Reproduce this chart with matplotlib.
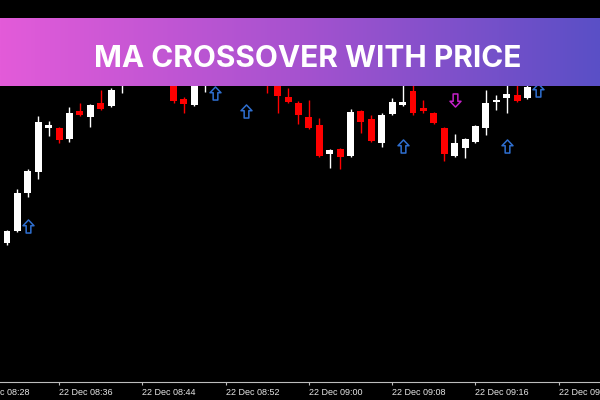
import numpy as np
import matplotlib
matplotlib.use("Agg")
import matplotlib.pyplot as plt
from matplotlib.path import Path
from matplotlib.colors import LinearSegmentedColormap

# one candle per minute, first candle = 22 Dec 08:31
opens = [139, 151, 189, 210, 254, 254, 243, 271, 265, 279, 276, 298, 310, 322, 316, 332, 312,
         283, 277, 302, 304, 316, 327, 318, 334, 324, 306, 285, 279, 265, 257, 228, 233, 226,
         271, 263, 239, 268, 277, 291, 274, 269, 254, 226, 234, 240, 254, 280, 284, 287, 284,
         305, 330, 347, 340, 352, 357]
highs = [152, 193, 213, 266, 261, 255, 275, 279, 278, 292, 294, 316, 327, 330, 336, 337, 318,
         285, 308, 320, 322, 332, 330, 338, 342, 332, 312, 294, 281, 282, 264, 233, 234, 273,
         272, 267, 269, 284, 304, 298, 282, 270, 255, 248, 244, 257, 292, 287, 298, 298, 300,
         334, 364, 352, 356, 360, 362]
lows = [137, 150, 185, 203, 246, 239, 240, 266, 255, 272, 275, 289, 306, 312, 313, 316, 279,
        269, 276, 290, 298, 310, 312, 304, 312, 289, 269, 279, 258, 253, 225, 214, 213, 225,
        249, 240, 235, 267, 276, 267, 269, 258, 221, 225, 224, 239, 247, 272, 269, 280, 283,
        303, 326, 332, 334, 344, 342]
closes = [151, 189, 211, 260, 257, 242, 269, 267, 277, 273, 292, 312, 322, 316, 332, 320, 281,
          278, 304, 314, 316, 327, 320, 332, 322, 307, 286, 280, 267, 254, 226, 232, 225, 270,
          260, 241, 267, 280, 280, 269, 271, 259, 228, 239, 243, 256, 279, 282, 288, 281, 295,
          330, 347, 340, 352, 357, 350]

# crossover signals
buy_idx = [2, 20, 23, 38, 48, 51]
buy_lvl = [156.5, 289, 271.5, 236.5, 236.5, 292.5]
sell_idx = [43]
sell_lvl = [282.5]

tick_pos = [-3, 5, 13, 21, 29, 37, 45, 53]
tick_labels = ["22 Dec 08:28", "22 Dec 08:36", "22 Dec 08:44", "22 Dec 08:52",
               "22 Dec 09:00", "22 Dec 09:08", "22 Dec 09:16", "22 Dec 09:24"]

title = "MA CROSSOVER WITH PRICE"

fig = plt.figure(figsize=(6, 4), dpi=100, facecolor="black")

step = 10.41   # px per candle
x0 = 7         # px of first candle
left_px = -26
ax = fig.add_axes([left_px / 600, 18 / 400, (600 - left_px) / 600, 382 / 400])
ax.set_facecolor("black")
ax.set_xlim((left_px - x0) / step, (600 - x0) / step)
ax.set_ylim(0, 382)

o = np.array(opens, dtype=float)
c = np.array(closes, dtype=float)
h = np.array(highs, dtype=float)
l = np.array(lows, dtype=float)
idx = np.arange(len(o))
colors = np.where(c >= o, "white", "red")

ax.vlines(idx, l, h, colors=colors, linewidth=1.0)
ax.bar(idx, np.maximum(np.abs(c - o), 2.5), bottom=np.minimum(o, c), width=0.67,
       color=colors, linewidth=0)

# hollow arrows
verts = [(0, 0.5), (0.42, 0.06), (0.18, 0.06), (0.18, -0.5), (-0.18, -0.5),
         (-0.18, 0.06), (-0.42, 0.06), (0, 0.5)]
codes = [Path.MOVETO] + [Path.LINETO] * 6 + [Path.CLOSEPOLY]
up_arrow = Path(verts, codes)
down_arrow = Path([(x, -y) for x, y in verts], codes)

ax.plot(buy_idx, buy_lvl, linestyle="none", marker=up_arrow, markersize=9.4,
        markerfacecolor="none", markeredgecolor="#2f6fd0", markeredgewidth=1.1)
ax.plot(sell_idx, sell_lvl, linestyle="none", marker=down_arrow, markersize=9.4,
        markerfacecolor="none", markeredgecolor="#c420c8", markeredgewidth=1.1)

for s in ["top", "left", "right"]:
    ax.spines[s].set_visible(False)
ax.spines["bottom"].set_color("#bdbdbd")
ax.spines["bottom"].set_linewidth(0.8)
ax.set_yticks([])
ax.set_xticks(tick_pos)
ax.set_xticklabels(tick_labels, ha="left", family="Liberation Sans", fontsize=6.5)
ax.tick_params(axis="x", colors="#bdbdbd", labelcolor="#e6e6e6", direction="out",
               length=2.5, width=0.8, pad=2)

# gradient banner
bax = fig.add_axes([0, 1 - 86 / 400, 1, 68 / 400])
cmap = LinearSegmentedColormap.from_list("banner", ["#e35bd9", "#a652cf", "#5a4fc6"])
bax.imshow(np.linspace(0, 1, 256).reshape(1, -1), aspect="auto", cmap=cmap,
           extent=[0, 1, 0, 1])
bax.set_xlim(0, 1)
bax.set_ylim(0, 1)
bax.axis("off")
bax.text(0.512, (86 - 67) / 68, title, ha="center", va="baseline", color="white",
         fontsize=21.5, fontweight="bold", family="Inter")

fig.savefig("out.png", dpi=100, facecolor="black")
